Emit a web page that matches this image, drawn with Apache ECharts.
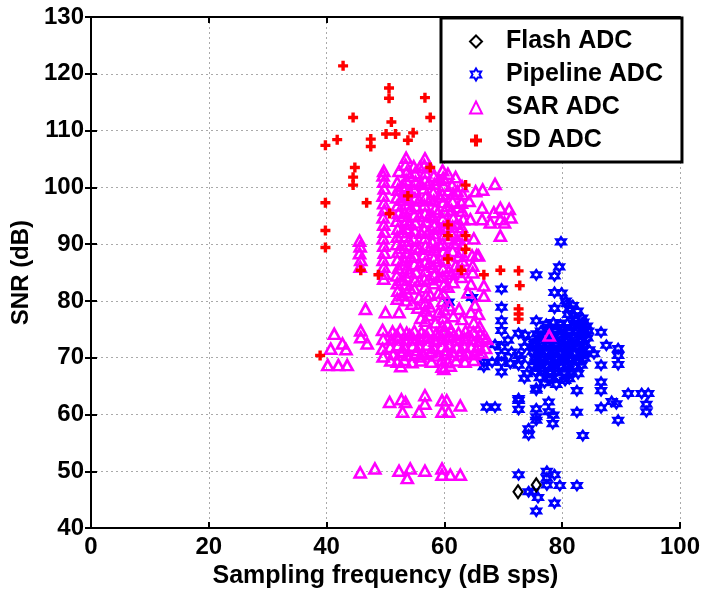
<!DOCTYPE html>
<html>
<head>
<meta charset="utf-8">
<script src="https://cdn.jsdelivr.net/npm/echarts@6/dist/echarts.min.js"></script>
<style>
html, body { margin: 0; padding: 0; background: #fff; }
#main { width: 703px; height: 594px; }
</style>
</head>
<body>
<div id="main"></div>
<script>
var seriesNames = ['Flash ADC', 'Pipeline ADC', 'SAR ADC', 'SD ADC'];
var xTicks = [0, 20, 40, 60, 80, 100];
var yTicks = [40, 50, 60, 70, 80, 90, 100, 110, 120, 130];

// [sampling frequency (dB sps), SNR (dB)]
var flashPoints = [[72.5, 46.4], [75.6, 47.6]];

var pipelinePoints = [
    [79.8, 90.4], [79.5, 86.0], [78.7, 84.4], [75.6, 84.6], [69.7, 82.1], [78.7, 81.5], [79.9, 81.4],
    [69.7, 78.9], [78.7, 78.7], [80.8, 79.5], [81.2, 78.6], [81.9, 77.4], [69.7, 76.5], [69.7, 74.8],
    [75.6, 76.5], [72.6, 74.3], [73.7, 74.0], [75.7, 74.2], [83.6, 76.3], [83.6, 75.1], [86.6, 74.5],
    [87.5, 72.2], [89.5, 71.6], [89.5, 70.4], [89.5, 68.8], [68.6, 72.3], [69.7, 71.9], [69.7, 70.4],
    [69.7, 69.2], [66.7, 69.2], [66.7, 68.4], [68.1, 69.2], [69.7, 67.5], [72.6, 70.4], [72.6, 68.7],
    [73.6, 71.9], [73.6, 66.4], [75.6, 64.3], [77.7, 66.4], [80.5, 66.0], [82.5, 64.2], [86.6, 68.7],
    [86.6, 65.7], [86.6, 64.2], [85.4, 70.7], [91.2, 63.7], [93.5, 63.7], [94.6, 63.7], [72.6, 62.8],
    [67.2, 61.3], [68.6, 61.3], [72.6, 62.5], [72.6, 60.9], [75.6, 64.6], [75.6, 61.0], [75.6, 59.6],
    [75.6, 59.0], [77.7, 62.2], [77.7, 60.5], [78.5, 59.9], [78.4, 58.4], [74.3, 57.5], [74.3, 56.4],
    [82.5, 60.4], [83.5, 56.3], [86.6, 61.2], [88.4, 62.3], [89.2, 61.9], [94.3, 61.8], [94.3, 60.5],
    [89.5, 59.0], [72.6, 49.4], [77.4, 50.0], [78.7, 49.4], [77.4, 48.8], [77.4, 47.6], [79.6, 47.5],
    [82.5, 47.5], [74.3, 46.4], [75.1, 46.4], [75.9, 45.4], [78.7, 44.4], [75.6, 43.0], [60.7, 79.8],
    [64.7, 80.6],
    [80.6, 80.0], [81.8, 79.2], [82.6, 78.2], [81.0, 77.6], [82.2, 76.8], [83.4, 77.0],
    [77.3, 75.9], [78.5, 76.2], [79.7, 75.8], [80.9, 76.1], [82.1, 75.7], [83.3, 76.0], [84.2, 75.6],
    [76.4, 74.7], [77.6, 75.0], [78.8, 74.6], [80.0, 74.9], [81.2, 74.5], [82.4, 74.8], [83.6, 74.4], [84.4, 74.7],
    [76.0, 73.5], [77.2, 73.8], [78.4, 73.4], [79.6, 73.7], [80.8, 73.3], [82.0, 73.6], [83.2, 73.2], [84.3, 73.5],
    [75.3, 72.3], [76.5, 72.6], [77.7, 72.2], [78.9, 72.5], [80.1, 72.1], [81.3, 72.4], [82.5, 72.0], [83.7, 72.3],
    [75.0, 71.1], [76.2, 71.4], [77.4, 71.0], [78.6, 71.3], [79.8, 70.9], [81.0, 71.2], [82.2, 70.8], [83.4, 71.1], [84.6, 71.4],
    [75.4, 69.9], [76.6, 70.2], [77.8, 69.8], [79.0, 70.1], [80.2, 69.7], [81.4, 70.0], [82.6, 69.6], [83.8, 69.9],
    [74.9, 68.7], [76.1, 69.0], [77.3, 68.6], [78.5, 68.9], [79.7, 68.5], [80.9, 68.8], [82.1, 68.4], [83.3, 68.7],
    [75.5, 67.5], [76.7, 67.8], [77.9, 67.4], [79.1, 67.7], [80.3, 67.3], [81.5, 67.6], [82.7, 67.2],
    [76.2, 66.5], [78.0, 66.2], [79.4, 66.6], [81.2, 66.3], [77.0, 65.6], [79.0, 65.3],
    [74.2, 72.8], [73.0, 69.8], [74.0, 67.2], [71.4, 71.0], [70.8, 73.1], [71.2, 69.0],
    [77.9, 75.4], [80.3, 75.3], [82.7, 75.3], [77.0, 74.1], [79.4, 74.1], [81.8, 74.0], [84.0, 74.0],
    [76.0, 72.9], [78.3, 72.9], [80.7, 72.8], [83.1, 72.8], [75.7, 71.7], [78.0, 71.7], [80.4, 71.6],
    [82.8, 71.6], [76.0, 70.5], [78.4, 70.5], [80.8, 70.4], [83.2, 70.4], [75.5, 69.3], [77.9, 69.3],
    [80.3, 69.2], [82.7, 69.2], [76.3, 68.1], [78.7, 68.1], [81.1, 68.0]
];

var sarPoints = [
    // left columns
    [45.6, 90.6], [45.7, 89.6], [45.6, 88.4], [45.8, 87.2], [45.7, 86.0],
    [49.7, 102.9], [49.6, 102.1], [49.7, 101.0], [49.8, 99.8], [49.6, 98.5], [49.7, 97.2], [49.8, 96.0],
    [49.6, 94.7], [49.7, 93.4], [49.8, 92.2], [49.6, 91.0], [49.7, 89.7], [49.8, 88.5], [49.6, 87.2],
    [49.7, 86.0], [49.8, 84.8], [49.7, 83.9],
    // upper block
    [52.3, 102.9], [52.0, 100.9], [52.1, 99.6], [51.9, 98.2], [52.0, 96.8], [52.2, 95.5], [51.9, 94.1], [52.1, 92.7],
    [52.0, 91.3], [51.9, 90.0], [52.1, 88.6], [52.0, 87.2], [52.2, 85.8], [51.9, 84.5], [52.0, 83.1],
    [52.1, 81.8], [52.0, 80.4],
    [53.5, 105.2], [53.4, 104.0], [53.6, 102.7], [53.5, 101.3], [53.4, 99.9], [53.6, 98.5], [53.5, 97.0],
    [53.3, 95.6], [53.6, 94.2], [53.5, 92.8], [53.4, 91.4], [53.6, 89.9], [53.5, 88.5], [53.3, 87.1],
    [53.6, 85.7], [53.5, 84.3], [53.4, 82.9], [53.6, 81.5], [53.5, 80.1],
    [54.8, 103.7], [55.0, 102.5], [55.1, 101.0], [54.9, 99.6], [55.0, 98.1], [55.2, 96.7], [54.9, 95.2], [55.1, 93.8],
    [55.0, 92.3], [54.8, 90.9], [55.1, 89.4], [55.0, 88.0], [54.9, 86.5], [55.2, 85.1], [55.0, 83.6],
    [54.9, 82.2],
    [56.7, 105.1], [56.6, 103.9], [56.8, 102.6], [56.7, 101.2], [56.5, 99.8], [56.8, 98.3], [56.6, 96.9],
    [56.7, 95.4], [56.9, 94.0], [56.6, 92.6], [56.7, 91.1], [56.8, 89.7], [56.5, 88.2], [56.7, 86.8],
    [56.8, 85.3], [56.6, 83.9], [56.7, 82.4], [56.9, 81.0], [56.7, 79.6],
    [58.2, 102.0], [58.3, 100.6], [58.1, 99.1], [58.2, 97.7], [58.4, 96.2], [58.1, 94.8], [58.3, 93.3],
    [58.2, 91.9], [58.0, 90.4], [58.3, 89.0], [58.2, 87.5], [58.1, 86.0], [58.3, 84.6], [58.2, 83.1],
    [59.7, 103.0], [59.8, 101.7], [59.9, 100.3], [59.7, 98.8], [59.8, 97.4], [60.0, 95.9], [59.7, 94.5],
    [59.8, 93.0], [59.9, 91.6], [59.7, 90.1], [59.8, 88.7], [60.0, 87.2], [59.8, 85.8], [59.7, 84.3],
    [59.9, 82.9], [59.8, 81.4], [59.7, 80.0], [59.9, 78.5], [59.8, 77.1], [59.7, 75.6],
    [61.9, 101.8], [61.3, 100.4], [61.5, 98.9], [61.4, 97.5], [61.2, 96.0], [61.5, 94.6], [61.4, 93.1],
    [61.3, 91.7], [61.6, 90.2], [61.4, 88.8], [61.9, 86.2], [61.3, 84.8], [61.5, 83.3],
    [63.0, 100.2], [63.1, 98.8], [62.9, 97.3], [63.0, 95.9], [63.2, 94.4], [62.9, 93.0], [63.1, 91.5],
    [63.0, 90.0], [62.8, 88.6], [63.1, 87.1], [63.0, 85.6], [62.9, 84.2],
    // in-between columns of the upper block
    [52.8, 100.2], [52.7, 97.8], [52.9, 95.0], [52.8, 92.1], [52.6, 89.3], [52.9, 86.4], [52.7, 83.7], [52.8, 81.0],
    [54.2, 102.0], [54.1, 99.2], [54.3, 96.3], [54.2, 93.5], [54.0, 90.6], [54.3, 87.8], [54.2, 85.0], [54.1, 82.3],
    [55.8, 103.5], [55.9, 100.6], [55.7, 97.7], [55.8, 94.9], [56.0, 92.0], [55.7, 89.2], [55.9, 86.3], [55.8, 83.5], [55.7, 80.6],
    [57.5, 103.6], [57.4, 100.8], [57.6, 97.9], [57.5, 95.1], [57.3, 92.2], [57.6, 89.4], [57.5, 86.5], [57.4, 83.8], [57.6, 81.1],
    [59.0, 101.3], [59.1, 98.4], [58.9, 95.6], [59.0, 92.7], [59.2, 89.9], [58.9, 87.0], [59.1, 84.2], [59.0, 81.4],
    [60.6, 102.4], [60.7, 99.5], [60.5, 96.7], [60.6, 93.8], [60.8, 91.0], [60.5, 88.1], [60.7, 85.3], [60.6, 82.5],
    [62.2, 99.3], [62.3, 96.5], [62.1, 93.6], [62.2, 90.8], [62.4, 87.9], [62.1, 85.1],
    // right fringe
    [64.4, 94.4], [64.8, 86.2], [64.8, 85.0], [64.7, 88.0], [65.5, 88.1], [65.8, 88.0], [66.5, 99.6],
    [66.4, 96.4], [66.4, 94.4], [67.8, 93.8], [69.5, 96.4], [69.5, 94.4], [69.5, 91.5], [71.0, 96.2],
    [71.3, 94.7], [70.2, 93.8], [66.7, 82.7], [66.7, 80.9], [65.8, 77.7], [65.2, 79.3], [64.0, 81.5],
    [64.5, 83.0], [65.0, 91.0], [64.2, 97.6], [65.3, 99.3], [68.4, 95.6], [68.6, 100.6],
    // middle
    [57.5, 79.0], [57.3, 77.5], [58.5, 76.2], [59.0, 78.0], [60.8, 79.2], [61.5, 77.3], [60.5, 76.0],
    [62.5, 78.6], [63.0, 76.8], [64.5, 78.0], [65.0, 76.2], [66.0, 75.5], [55.5, 78.8], [56.0, 77.0],
    [54.5, 79.5], [46.6, 78.6], [50.0, 78.0], [52.3, 78.0], [56.7, 78.3], [56.8, 76.5],
    // lower left
    [41.3, 74.2], [40.7, 71.6], [42.7, 72.5], [43.3, 71.5], [40.2, 68.7], [42.0, 68.7], [43.5, 68.7],
    [45.8, 74.8], [45.8, 73.6], [46.9, 72.5], [49.5, 74.9], [49.6, 73.3], [49.5, 71.6], [49.6, 70.2],
    // lower band
    [51.2, 74.6], [52.5, 74.9], [53.6, 74.4], [54.9, 74.7], [56.1, 74.5], [57.4, 74.8], [58.6, 74.3],
    [59.9, 74.6], [61.1, 74.9], [62.4, 74.4], [63.6, 74.7], [64.9, 74.5], [66.1, 74.2],
    [51.0, 73.2], [52.2, 73.5], [53.4, 73.1], [54.7, 73.4], [55.9, 73.2], [57.2, 73.5], [58.4, 73.0],
    [59.7, 73.3], [60.9, 73.6], [62.2, 73.1], [63.4, 73.4], [64.7, 73.2], [65.9, 73.0], [67.2, 73.3],
    [50.8, 71.9], [52.1, 72.2], [53.3, 71.8], [54.6, 72.1], [55.8, 71.9], [57.1, 72.3], [58.3, 71.7],
    [59.6, 72.0], [60.8, 72.3], [62.1, 71.8], [63.3, 72.1], [64.6, 71.9], [65.8, 72.2], [67.0, 71.7],
    [51.3, 70.6], [52.6, 70.9], [53.8, 70.5], [55.1, 70.8], [56.3, 70.6], [57.6, 70.9], [58.8, 70.4],
    [60.1, 70.7], [61.3, 71.0], [62.6, 70.5], [63.8, 70.8], [65.1, 70.6], [66.3, 70.9],
    [52.0, 69.3], [53.2, 69.6], [54.5, 69.2], [56.0, 69.5], [57.8, 69.3], [59.6, 69.6], [60.6, 69.2],
    [62.0, 69.5], [63.5, 69.3], [65.0, 69.6],
    [52.6, 68.5], [50.9, 69.5], [55.9, 70.2], [59.6, 68.4], [59.9, 68.0], [61.0, 68.6],
    [51.8, 73.9], [54.1, 74.0], [56.6, 73.8], [59.0, 73.9], [61.6, 74.0], [64.1, 73.9], [66.6, 73.6],
    [53.0, 71.2], [55.4, 71.3], [57.9, 71.2], [60.4, 71.3], [62.9, 71.2], [65.4, 71.4],
    // 61-63 dB row
    [50.7, 62.2], [52.7, 62.7], [52.9, 60.5], [53.4, 62.2], [56.7, 63.4], [56.7, 61.9], [55.7, 60.5],
    [59.6, 62.5], [60.4, 62.5], [59.6, 60.5], [60.7, 60.5], [62.7, 61.6],
    // ~50 dB row
    [45.7, 49.8], [48.2, 50.5], [52.3, 50.1], [54.2, 50.5], [53.7, 48.8], [56.7, 50.1], [59.6, 50.5],
    [59.6, 49.4], [61.0, 49.4], [62.7, 49.4],
    // lone point in the pipeline cluster
    [77.8, 73.9]
];

var sdPoints = [
    [38.9, 70.4], [39.8, 107.4], [39.8, 97.3], [39.8, 92.4], [39.8, 89.4], [41.8, 108.4], [42.8, 121.4],
    [44.5, 112.3], [44.5, 101.8], [44.5, 100.4], [44.8, 103.5], [45.8, 85.4], [46.8, 97.3], [47.5, 108.5],
    [47.5, 107.2], [48.8, 84.6], [50.1, 109.4], [50.6, 117.5], [50.6, 115.7], [50.7, 95.4], [51.0, 111.5],
    [51.7, 109.4], [53.8, 108.3], [53.8, 98.5], [54.7, 109.6], [56.7, 115.8], [57.6, 112.3], [57.6, 103.5],
    [60.6, 93.4], [60.6, 91.5], [60.6, 87.4], [62.9, 85.4], [63.6, 100.4], [63.6, 91.5], [63.6, 89.1],
    [66.7, 84.6], [69.5, 85.4], [72.6, 85.3], [72.8, 82.7], [72.6, 78.6], [72.6, 77.7], [72.6, 76.8]
];

var plusPath = 'path://M3.3,0 L6.7,0 L6.7,3.3 L10,3.3 L10,6.7 L6.7,6.7 L6.7,10 L3.3,10 L3.3,6.7 L0,6.7 L0,3.3 L3.3,3.3 Z';
var hexPath = 'path://M10,0 L12.89,5 L18.66,5 L15.77,10 L18.66,15 L12.89,15 L10,20 L7.11,15 L1.34,15 L4.23,10 L1.34,5 L7.11,5 Z';

var font = 'Liberation Sans';
var dom = document.getElementById('main');
var myChart = echarts.init(dom);

var option = {
    animation: false,
    backgroundColor: '#fff',
    grid: { left: 91, right: 21, top: 17, bottom: 64 },
    legend: {
        data: seriesNames,
        orient: 'vertical',
        left: 441,
        top: 18,
        padding: [11, 19, 9, 28],
        itemWidth: 12,
        itemHeight: 12,
        itemGap: 8,
        backgroundColor: '#fff',
        borderColor: '#000',
        borderWidth: 3,
        textStyle: {
            fontFamily: font, fontWeight: 'bold', fontSize: 25, color: '#000',
            lineHeight: 25, padding: [0, 0, 0, 19]
        }
    },
    xAxis: [{
        type: 'value', min: 0, max: 100, interval: 20,
        name: 'Sampling frequency (dB sps)', nameLocation: 'middle', nameGap: 34,
        nameTextStyle: { fontFamily: font, fontWeight: 'bold', fontSize: 25, color: '#000' },
        axisLine: { lineStyle: { color: '#000', width: 2 } },
        axisTick: { inside: true, length: 6, lineStyle: { color: '#000', width: 2 } },
        axisLabel: { fontFamily: font, fontWeight: 'bold', fontSize: 24, color: '#000', margin: 7 },
        splitLine: { show: true, lineStyle: { color: '#aaaaaa', width: 1, type: [2, 3] } }
    }, {
        type: 'value', min: 0, max: 100, interval: 20, position: 'top',
        axisLine: { show: true, lineStyle: { color: '#000', width: 2 } },
        axisTick: { inside: true, length: 6, lineStyle: { color: '#000', width: 2 } },
        axisLabel: { show: false },
        splitLine: { show: false }
    }],
    yAxis: [{
        type: 'value', min: 40, max: 130, interval: 10,
        name: 'SNR (dB)', nameLocation: 'middle', nameGap: 56,
        nameTextStyle: { fontFamily: font, fontWeight: 'bold', fontSize: 24, color: '#000' },
        axisLine: { show: true, lineStyle: { color: '#000', width: 2 } },
        axisTick: { show: true, inside: true, length: 6, lineStyle: { color: '#000', width: 2 } },
        axisLabel: { fontFamily: font, fontWeight: 'bold', fontSize: 24, color: '#000', margin: 7 },
        splitLine: { show: true, lineStyle: { color: '#aaaaaa', width: 1, type: [2, 3] } }
    }, {
        type: 'value', min: 40, max: 130, interval: 10, position: 'right',
        axisLine: { show: true, lineStyle: { color: '#000', width: 2 } },
        axisTick: { show: true, inside: true, length: 6, lineStyle: { color: '#000', width: 2 } },
        axisLabel: { show: false },
        splitLine: { show: false }
    }],
    series: [
        {
            name: 'Flash ADC', type: 'scatter', data: flashPoints, z: 5,
            symbol: 'diamond', symbolSize: [9, 13],
            itemStyle: { color: 'rgba(255,255,255,0)', borderColor: '#000', borderWidth: 2.2, opacity: 1 }
        },
        {
            name: 'Pipeline ADC', type: 'scatter', data: pipelinePoints, z: 2,
            symbol: hexPath, symbolSize: 9,
            itemStyle: { color: 'rgba(255,255,255,0)', borderColor: '#0000ff', borderWidth: 2.6, opacity: 1 }
        },
        {
            name: 'SAR ADC', type: 'scatter', data: sarPoints, z: 3,
            symbol: 'triangle', symbolSize: [11, 10],
            itemStyle: { color: 'rgba(255,255,255,0)', borderColor: '#ff00ff', borderWidth: 2.6, opacity: 1 }
        },
        {
            name: 'SD ADC', type: 'scatter', data: sdPoints, z: 4,
            symbol: plusPath, symbolSize: 10,
            itemStyle: { color: '#ff0000', opacity: 1 }
        }
    ]
};

if (option && typeof option === 'object') {
    myChart.setOption(option, true);
}
</script>
</body>
</html>
